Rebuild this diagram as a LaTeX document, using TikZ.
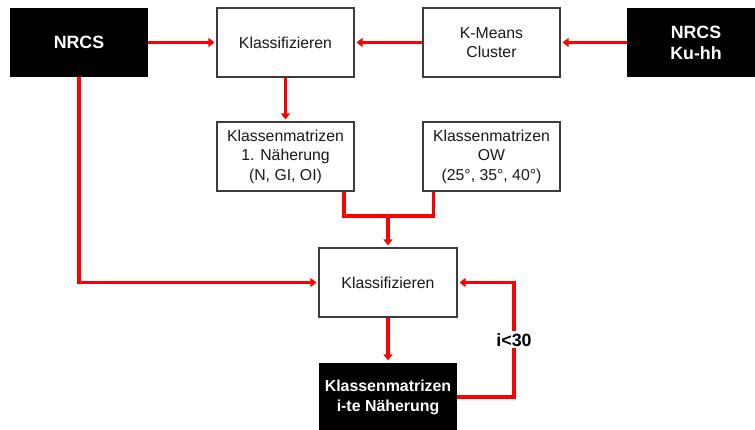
\documentclass[tikz,border=0pt]{standalone}
\usepackage{fontspec}
\setmainfont{Liberation Sans}
\usetikzlibrary{arrows.meta}
\definecolor{redline}{RGB}{255,0,0}
\definecolor{boxborder}{RGB}{60,60,60}
\tikzset{
  wbox/.style={draw=boxborder, line width=1.2pt, fill=white, minimum width=137pt, minimum height=69pt, inner sep=0pt, align=center, font=\fontsize{15.8}{19.5}\selectfont, text=black!90},
  bbox/.style={fill=black, minimum width=138pt, minimum height=69pt, inner sep=0pt, align=center, text=white, font=\fontsize{17.8}{21}\selectfont\bfseries},
  bbox2/.style={fill=black, minimum width=138pt, minimum height=69pt, inner sep=0pt, align=center, text=white, font=\fontsize{15.9}{20}\selectfont\bfseries},
  conn/.style={draw=redline, line width=3.8pt},
  arr/.style={conn, -{Triangle[length=6pt,width=9pt]}, shorten >=2pt},
}
\begin{document}
\begin{tikzpicture}[x=1pt,y=-1pt]
\useasboundingbox (0,0) rectangle (755,430);
\node[bbox] (nrcs) at (79,42.5) {NRCS};
\node[wbox] (kl1) at (285.5,42.5) {Klassifizieren};
\node[wbox] (km) at (491.5,42.5) {K-Means\\Cluster};
\node[bbox] (ku) at (696,42.5) {NRCS\\Ku-hh};
\node[wbox] (km1) at (285.5,156.5) {Klassenmatrizen\\1. Näherung\\(N, GI, OI)};
\node[wbox] (ow) at (491.5,156.5) {Klassenmatrizen\\OW\\(25°, 35°, 40°)};
\node[wbox, minimum width=138pt] (kl2) at (388,282.5) {Klassifizieren};
\node[bbox2] (ite) at (388,397) {Klassenmatrizen\\i-te Näherung};
\coordinate (j) at (388,216);
\coordinate (c1) at (514,397);
\coordinate (c2) at (514,282.5);

\draw[arr] (nrcs.east) -- (kl1.west);
\draw[arr] (km.west) -- (kl1.east);
\draw[arr] (ku.west) -- (km.east);
\draw[arr] (kl1.south) -- (km1.north);
\draw[conn] ([xshift=-11pt]km1.south east) |- (j) -| ([xshift=11pt]ow.south west);
\draw[arr] (j) -- (kl2.north);
\draw[arr] (nrcs.south) |- (kl2.west);
\draw[arr] (kl2.south) -- (ite.north);
\draw[arr] (ite.east) -- (c1) -- node[fill=white, inner sep=2pt, font=\fontsize{17.8}{21}\selectfont\bfseries] (lbl) {i<30} (c2) -- (kl2.east);
\end{tikzpicture}
\end{document}
